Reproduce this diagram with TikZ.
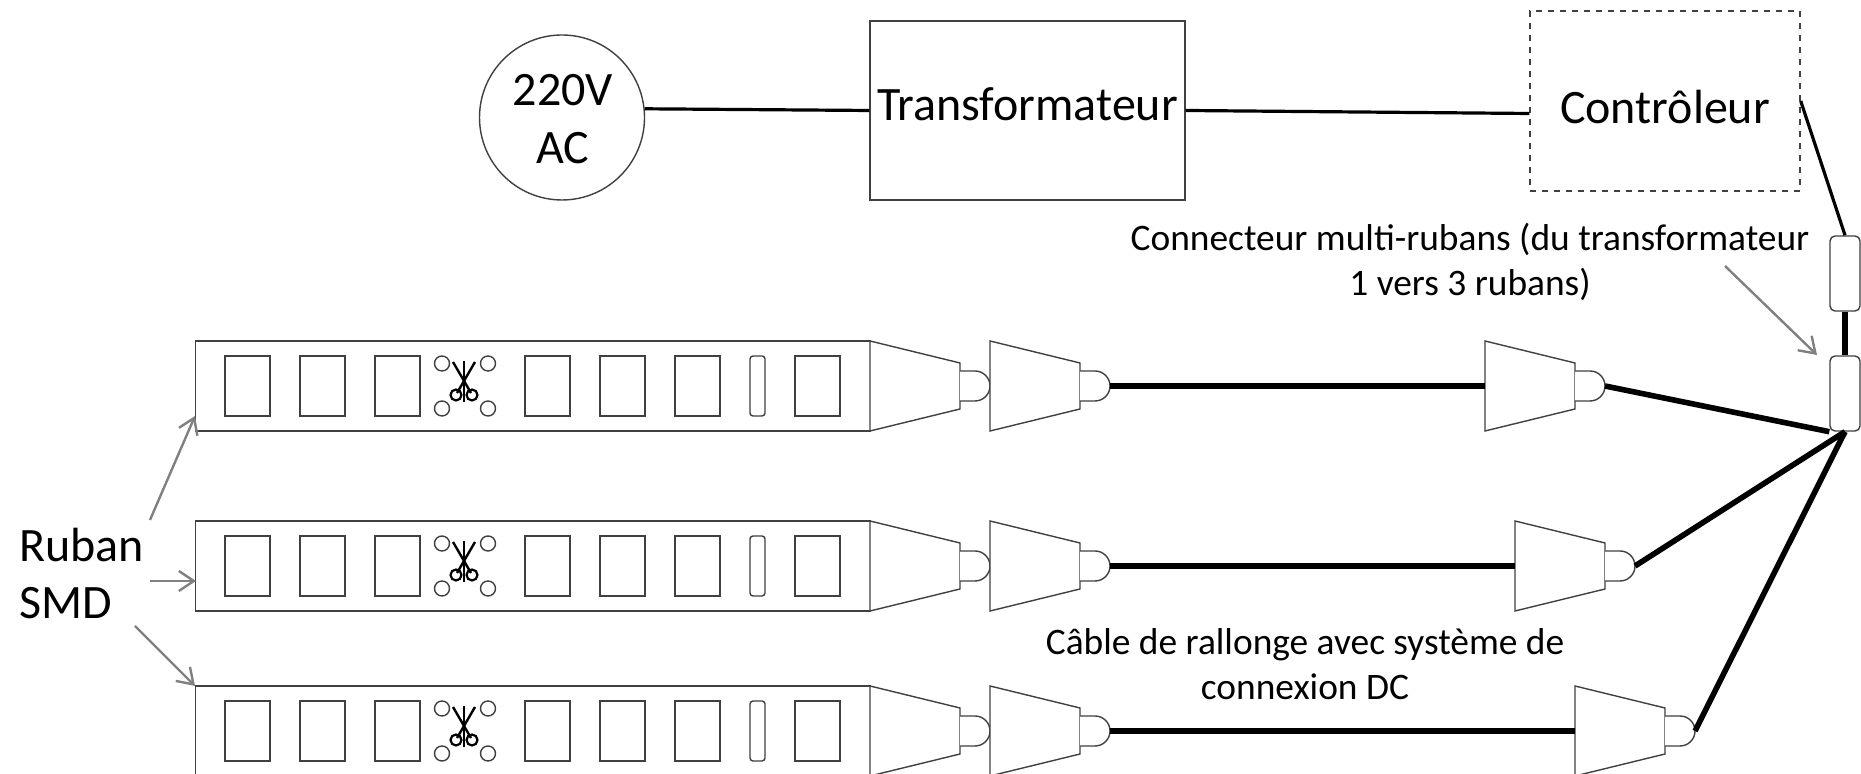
\documentclass[tikz,border=0pt]{standalone}
\usepackage{fontspec}
\setmainfont{Carlito}
\usetikzlibrary{arrows.meta}

\tikzset{
  part/.style={draw=black!75,line width=.7pt,fill=white},
  box/.style={part,rectangle,inner sep=0pt},
  strip/.style={box,minimum width=337.5pt,minimum height=45pt},
  connector/.style={box,rounded corners=2.5pt,minimum width=15pt,minimum height=37.5pt},
  bigtext/.style={font=\fontsize{24}{28.7}\selectfont,align=center,inner sep=0pt},
  smalltext/.style={font=\fontsize{18.7}{22.5}\selectfont,align=center,inner sep=0pt},
  wire/.style={line width=1.6pt},
  cable/.style={line width=2.8pt},
  pointer/.style={draw=black!50,line width=1.2pt,-{Straight Barb[length=7.5pt,width=10pt]}},
  % plug: body then round tip, base at the origin
  plug/.pic={
    \draw[part] (0,-45) -- (90,-23) -- (90,23) -- (0,45) -- cycle;
    \draw[part] (90,15) -- (105,15) arc (90:-90:15) -- (90,-15);
    \coordinate (-base) at (0,0);
    \coordinate (-tip) at (120,0);
  },
  % pads of a strip, origin at the strip's left end
  pads/.pic={
    \foreach \padx in {30,105,180,330,405,480,600}
      \draw[part] (\padx,-30) rectangle ++(45,60);
    \draw[part,rounded corners=1.5pt] (555,-30) rectangle ++(15,60);
    \foreach \holex/\holey in {247/22.5,293/22.5,247/-22.5,293/-22.5}
      \draw[part] (\holex,\holey) circle (7.5);
    \draw[black,line width=1.2pt] (269,25) -- (269,-16);
    \draw[black,line width=1.2pt] (258,24) -- (276,-7);
    \draw[black,line width=1.2pt] (280,24) -- (262,-7);
    \draw[black,line width=1.1pt] (261,-9) circle (5.5);
    \draw[black,line width=1.1pt] (277,-9) circle (5.5);
  }
}

\begin{document}
\begin{tikzpicture}[x=.5pt,y=.5pt]
  \useasboundingbox (0,0) rectangle (1861,774);

  \node (source) [part,circle,minimum size=82.5pt,inner sep=0pt] at (562,656.5) {};
  \node (source_text) [bigtext] at (563,655) {220V\\AC};
  \node (transfo) [box,minimum width=157.5pt,minimum height=89.5pt] at (1027.5,663.5) {};
  \node (transfo_text) [bigtext,anchor=base] at (1027.5,653) {Transformateur};
  \node (ctrl) [box,dashed,minimum width=135pt,minimum height=90pt] at (1665,673) {};
  \node (ctrl_text) [bigtext,anchor=base] at (1665,650) {Contrôleur};
  \node (upper) [connector] at (1845,500.5) {};
  \node (hub) [connector] at (1845,380.5) {};

  \draw[wire] (source.6) -- (transfo.west);
  \draw[wire] (transfo.east) -- (ctrl.west |- 0,660.5);
  \draw[wire] (ctrl.east) -- (upper.north);
  \draw[cable] (upper.south) -- (hub.north);

  \foreach \rowname/\rowy/\lastx in {A/388/1485,B/208/1515,C/43/1575} {
    \node (strip\rowname) [strip,anchor=west] at (195,\rowy) {};
    \pic at (195,\rowy) {pads};
    \pic (first\rowname) at (870,\rowy) {plug};
    \pic (second\rowname) at (990,\rowy) {plug};
    \pic (third\rowname) at (\lastx,\rowy) {plug};
    \draw[cable] (second\rowname-tip) -- (third\rowname-base);
  }
  \draw[cable] (thirdA-tip) -- (hub.south west);
  \draw[cable] (thirdB-tip) -- (hub.south);
  \draw[cable] (thirdC-tip) -- (hub.south);

  \node (multi) [smalltext,anchor=base] at (1470,478) {Connecteur multi-rubans (du transformateur\\1 vers 3 rubans)};
  \node (rallonge) [smalltext,anchor=base] at (1305,74) {Câble de rallonge avec système de\\connexion DC};
  \node (ruban) [bigtext,align=left,anchor=base west] at (19,155) {Ruban\\SMD};

  \coordinate (ruban_a) at (150,254);
  \coordinate (ruban_b) at (150,193);
  \coordinate (ruban_c) at (135,148);
  \coordinate (strip_a) at (195,358);
  \coordinate (strip_b) at (196,193);
  \coordinate (strip_c) at (195,88);
  \coordinate (multi_a) at (1725,508);
  \coordinate (multi_b) at (1817,419);
  \draw[pointer] (ruban_a) -- (strip_a);
  \draw[pointer] (ruban_b) -- (strip_b);
  \draw[pointer] (ruban_c) -- (strip_c);
  \draw[pointer] (multi_a) -- (multi_b);
\end{tikzpicture}
\end{document}
